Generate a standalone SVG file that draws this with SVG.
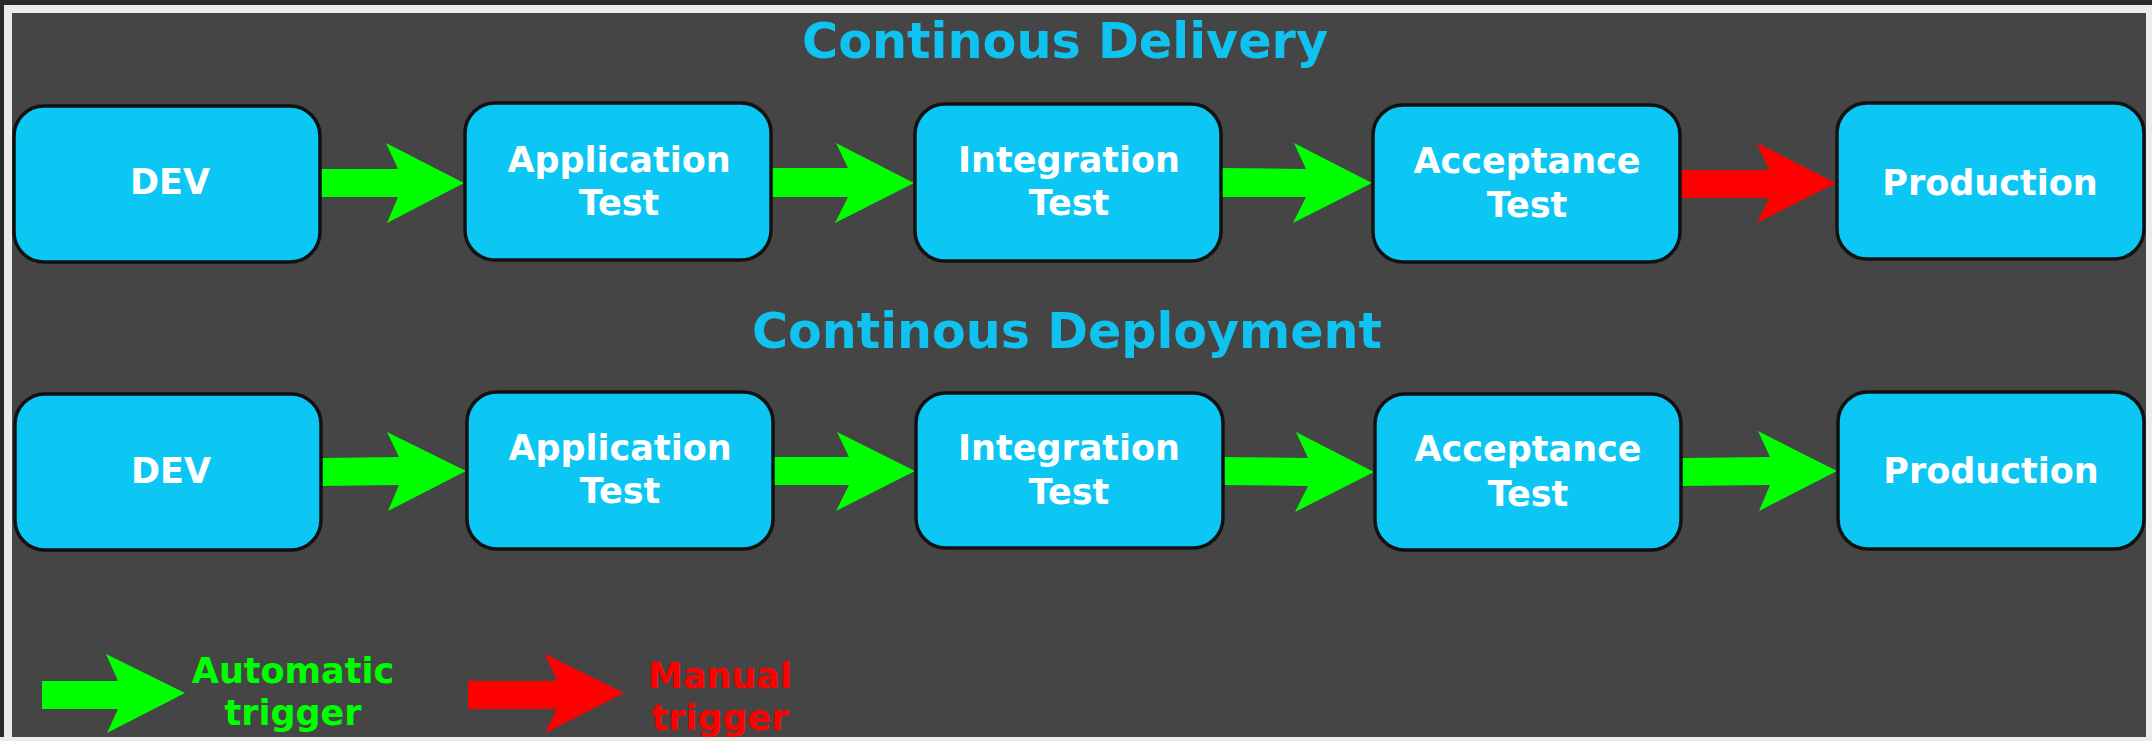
<svg xmlns="http://www.w3.org/2000/svg" width="2152" height="741" viewBox="0 0 2152 741">
<style>
.node rect{fill:#0cc6f4;stroke:#111;stroke-width:3.5}
.node text{fill:#fff;font-family:"DejaVu Sans",sans-serif;font-weight:bold;font-size:35px;text-anchor:middle}
.title{fill:#10c2f0;font-family:"DejaVu Sans",sans-serif;font-weight:bold;font-size:49px;text-anchor:middle}
.auto{fill:#00ff00}
.man{fill:#ff0000}
.leg{font-family:"DejaVu Sans",sans-serif;font-weight:bold;font-size:35px;text-anchor:middle}
</style>
<rect x="0" y="0" width="2152" height="741" fill="#ebebeb"/>
<rect x="0" y="0" width="2152" height="5" fill="#2a2a2a"/>
<rect x="0" y="0" width="4" height="741" fill="#2a2a2a"/>
<rect x="12" y="13" width="2134" height="724" fill="#454545"/>

<text class="title" x="1065" y="58" textLength="526" lengthAdjust="spacingAndGlyphs">Continous Delivery</text>
<text class="title" x="1067" y="348" textLength="630" lengthAdjust="spacingAndGlyphs">Continous Deployment</text>

<g id="connectors">
<path class="auto" d="M320,169 L398,169 L386,143 L464,183 L387,223 L398,197 L320,197 Z"/>
<path class="auto" d="M771,168 L848,168 L836,143 L914,183 L835,223 L848,197 L771,197 Z"/>
<path class="auto" d="M1221,168 L1306,169 L1294,143 L1372,183 L1293,223 L1306,197 L1221,197 Z"/>
<path class="man" d="M1680,170 L1769,170 L1757,143 L1836,183 L1757,223 L1769,198 L1680,198 Z"/>
<path class="auto" d="M321,458 L399,457 L387,432 L466,471 L388,511 L399,485 L321,486 Z"/>
<path class="auto" d="M773,457 L849,457 L837,432 L915,471 L836,511 L849,485 L773,485 Z"/>
<path class="auto" d="M1223,457 L1308,458 L1296,432 L1374,472 L1295,512 L1308,486 L1223,485 Z"/>
<path class="auto" d="M1681,458 L1770,457 L1758,431 L1837,471 L1759,511 L1770,485 L1681,486 Z"/>
</g>

<g id="n1" class="node"><rect x="14" y="106" width="306" height="156" rx="30"/><text x="170" y="194">DEV</text></g>
<g id="n2" class="node"><rect x="465" y="103" width="306" height="157" rx="30"/><text x="619" y="172">Application</text><text x="619" y="215">Test</text></g>
<g id="n3" class="node"><rect x="915" y="104" width="306" height="157" rx="30"/><text x="1069" y="172">Integration</text><text x="1069" y="215">Test</text></g>
<g id="n4" class="node"><rect x="1373" y="105" width="307" height="157" rx="30"/><text x="1527" y="173">Acceptance</text><text x="1527" y="217">Test</text></g>
<g id="n5" class="node"><rect x="1837" y="103" width="307" height="156" rx="30"/><text x="1990" y="195">Production</text></g>

<g id="m1" class="node"><rect x="15" y="394" width="306" height="156" rx="30"/><text x="171" y="483">DEV</text></g>
<g id="m2" class="node"><rect x="467" y="392" width="306" height="157" rx="30"/><text x="620" y="460">Application</text><text x="620" y="503">Test</text></g>
<g id="m3" class="node"><rect x="916" y="393" width="307" height="155" rx="30"/><text x="1069" y="460">Integration</text><text x="1069" y="504">Test</text></g>
<g id="m4" class="node"><rect x="1375" y="394" width="306" height="156" rx="30"/><text x="1528" y="461">Acceptance</text><text x="1528" y="506">Test</text></g>
<g id="m5" class="node"><rect x="1838" y="392" width="306" height="157" rx="30"/><text x="1991" y="483">Production</text></g>

<g id="legend-auto">
<path class="auto" d="M42,681 L118,681 L106,654 L185,693 L107,733 L118,709 L42,709 Z"/>
<text class="leg auto" x="293" y="683">Automatic</text>
<text class="leg auto" x="293" y="725">trigger</text>
</g>
<g id="legend-manual">
<path class="man" d="M468,681 L557,681 L545,654 L624,693 L545,733 L557,709 L468,709 Z"/>
<text class="leg man" x="720" y="688">Manual</text>
<text class="leg man" x="720" y="730">trigger</text>
</g>
<rect x="0" y="737" width="2152" height="4" fill="#ebebeb"/>
</svg>
